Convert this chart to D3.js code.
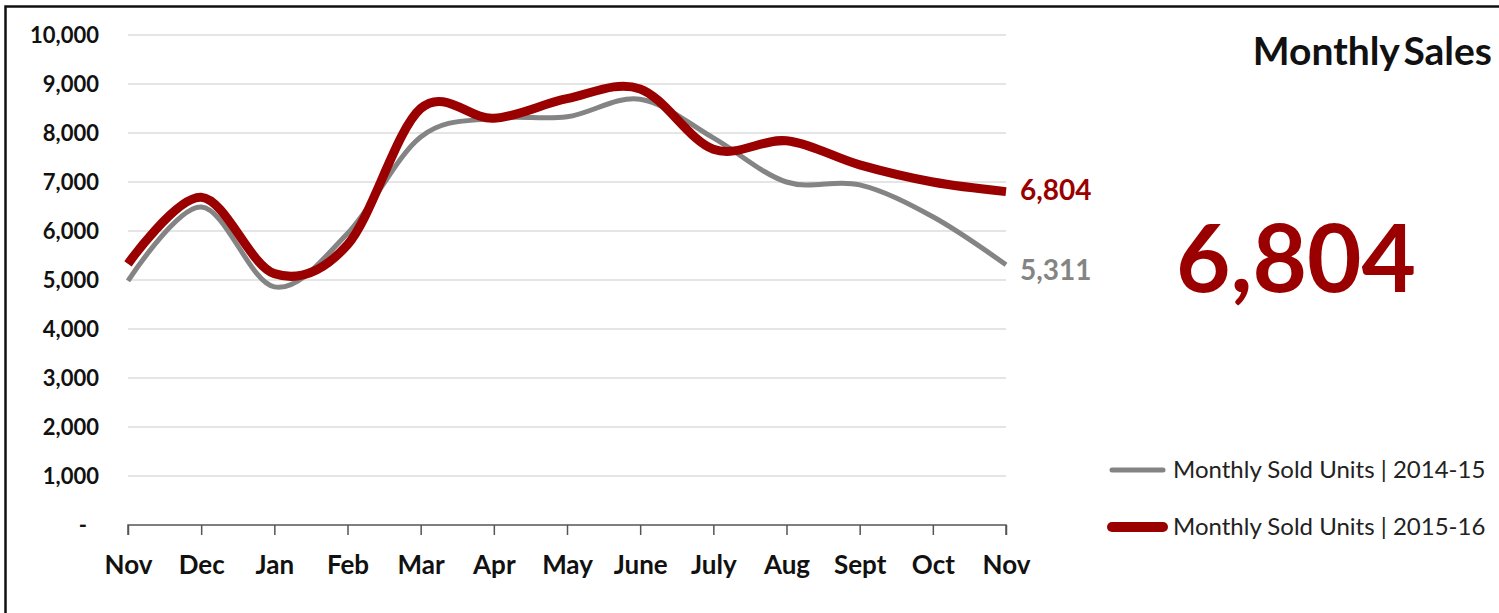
<!DOCTYPE html>
<html>
<head>
<meta charset="utf-8">
<script src="https://cdn.jsdelivr.net/npm/d3@7"></script>
<style>
  html, body { margin: 0; padding: 0; background: #fff; }
  svg { display: block; }
  text { font-family: Lato, "Open Sans", sans-serif; }
</style>
</head>
<body>
<svg id="chart" width="1499" height="613"></svg>
<script>
// Monthly sold units, Nov to Nov
const months = ["Nov", "Dec", "Jan", "Feb", "Mar", "Apr", "May", "June", "July", "Aug", "Sept", "Oct", "Nov"];
const sold2014_15 = [4980, 6490, 4860, 5950, 7920, 8300, 8330, 8690, 7900, 7000, 6940, 6290, 5311];
const sold2015_16 = [5330, 6690, 5130, 5720, 8500, 8300, 8700, 8900, 7670, 7840, 7350, 7000, 6804];
const yTicks = [0, 1000, 2000, 3000, 4000, 5000, 6000, 7000, 8000, 9000, 10000];
const seriesNames = ["Monthly Sold Units | 2014-15", "Monthly Sold Units | 2015-16"];
const title = "Monthly Sales";

const RED = "#9a0000";
const GREY = "#848484";

const svg = d3.select("#chart");

// frame along the top and left edges
svg.append("rect")
  .attr("x", 5.5).attr("y", 6.5)
  .attr("width", 1520).attr("height", 640)
  .attr("fill", "none").attr("stroke", "#111").attr("stroke-width", 2.5);

const x = d3.scalePoint().domain(d3.range(months.length)).range([128, 1006]);
const y = d3.scaleLinear().domain([0, 10000]).range([525, 35]);

const fmt = d3.format(",");

// horizontal gridlines
svg.append("g").selectAll("line")
  .data(yTicks.filter(d => d > 0))
  .join("line")
  .attr("x1", x(0)).attr("x2", x(months.length - 1))
  .attr("y1", d => y(d)).attr("y2", d => y(d))
  .attr("stroke", "#dcdcdc").attr("stroke-width", 1.3);

// y axis labels (zero shown as an accounting dash)
const yAxis = d3.axisLeft(y)
  .tickValues(yTicks)
  .tickSize(0)
  .tickPadding(0)
  .tickFormat(d => d === 0 ? "-" : fmt(d));
const gy = svg.append("g").attr("transform", "translate(99,0)").call(yAxis);
gy.select(".domain").remove();
gy.selectAll("text")
  .attr("font-family", "Lato, sans-serif")
  .attr("font-size", 22)
  .attr("font-weight", 700)
  .attr("fill", "#111");
gy.selectAll(".tick").filter(d => d === 0).select("text").attr("x", -12);

// x axis
const xAxis = d3.axisBottom(x)
  .tickSize(10)
  .tickPadding(21)
  .tickFormat(i => months[i]);
const gx = svg.append("g").attr("transform", `translate(0,${y(0)})`).call(xAxis);
gx.select(".domain").attr("stroke", "#555").attr("stroke-width", 1.5)
  .attr("d", `M${x(0)},10V0H${x(months.length - 1)}V10`);
gx.selectAll(".tick line").attr("stroke", "#555").attr("stroke-width", 1.5);
gx.selectAll("text")
  .attr("font-family", "Lato, sans-serif")
  .attr("font-size", 26)
  .attr("font-weight", 700)
  .attr("fill", "#111");

// smoothed lines
const line = d3.line()
  .x((d, i) => x(i))
  .y(d => y(d))
  .curve(d3.curveCardinal.tension(0));

svg.append("path")
  .datum(sold2014_15)
  .attr("d", line)
  .attr("fill", "none")
  .attr("stroke", GREY)
  .attr("stroke-width", 5)
  .attr("stroke-linejoin", "round");

svg.append("path")
  .datum(sold2015_16)
  .attr("d", line)
  .attr("fill", "none")
  .attr("stroke", RED)
  .attr("stroke-width", 9)
  .attr("stroke-linejoin", "round");

// end-of-line value labels
const last = months.length - 1;
svg.append("text")
  .attr("x", x(last) + 14).attr("y", y(sold2015_16[last]) - 1)
  .attr("dy", "0.35em")
  .attr("font-size", 28).attr("font-weight", 700)
  .attr("fill", RED)
  .text(fmt(sold2015_16[last]));
svg.append("text")
  .attr("x", x(last) + 14).attr("y", y(sold2014_15[last]) + 5)
  .attr("dy", "0.35em")
  .attr("font-size", 28).attr("font-weight", 700)
  .attr("fill", GREY)
  .text(fmt(sold2014_15[last]));

// title
svg.append("text")
  .attr("x", 1492).attr("y", 65)
  .attr("text-anchor", "end")
  .attr("font-size", 39).attr("font-weight", 700)
  .attr("fill", "#111")
  .attr("word-spacing", "-5")
  .text(title);

// headline figure
svg.append("text")
  .attr("x", 1296).attr("y", 292)
  .attr("text-anchor", "middle")
  .attr("font-size", 94).attr("font-weight", 700)
  .attr("fill", RED)
  .text(fmt(sold2015_16[last]));

// legend
const legend = svg.append("g");
const legendRows = [
  { name: seriesNames[0], color: GREY, width: 5, y: 470 },
  { name: seriesNames[1], color: RED, width: 10, y: 527 }
];
legendRows.forEach(r => {
  legend.append("line")
    .attr("x1", 1112).attr("x2", 1163)
    .attr("y1", r.y).attr("y2", r.y)
    .attr("stroke", r.color).attr("stroke-width", r.width)
    .attr("stroke-linecap", "round");
  legend.append("text")
    .attr("x", 1173).attr("y", r.y)
    .attr("dy", "0.35em")
    .attr("font-size", 24)
    .attr("fill", "#222")
    .text(r.name);
});
</script>
</body>
</html>
